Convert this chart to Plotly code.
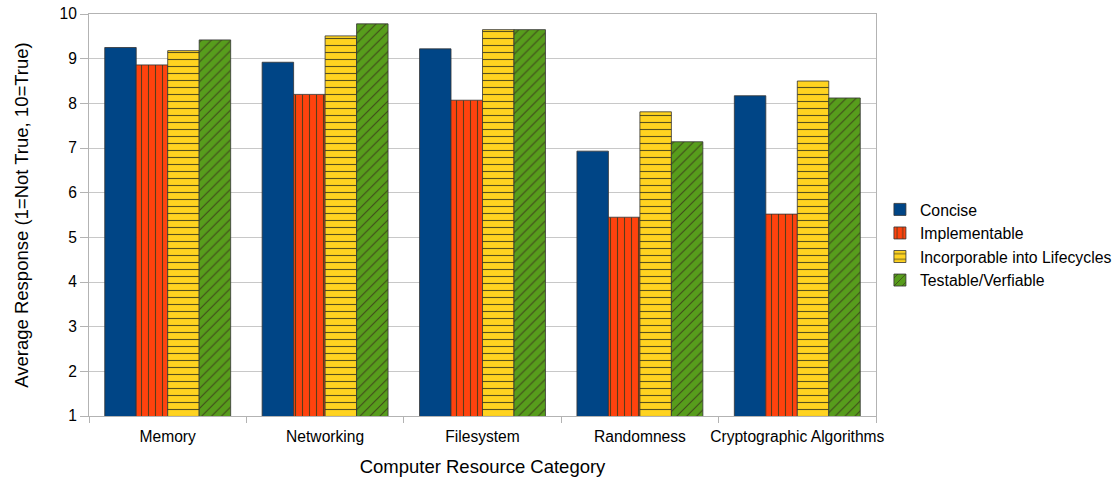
import plotly.graph_objects as go

categories = ["Memory", "Networking", "Filesystem", "Randomness", "Cryptographic Algorithms"]
concise = [9.25, 8.92, 9.22, 6.93, 8.17]
implementable = [8.86, 8.20, 8.07, 5.45, 5.52]
incorporable = [9.18, 9.51, 9.65, 7.81, 8.50]
testable = [9.42, 9.78, 9.65, 7.14, 8.12]

series = [
    ("Concise", concise, "#004586", ""),
    ("Implementable", implementable, "#ff420e", "|"),
    ("Incorporable into Lifecycles", incorporable, "#ffd320", "-"),
    ("Testable/Verfiable", testable, "#579d1c", "/"),
]

fig = go.Figure()
for name, vals, color, shape in series:
    pattern = dict(shape=shape, fgcolor="#3a3a1a", fgopacity=0.85,
                   size=7, solidity=0.16, fillmode="overlay") if shape else None
    fig.add_trace(go.Bar(
        name=name, x=categories, y=vals,
        marker=dict(color=color, line=dict(color="#333333", width=0.8),
                    pattern=pattern),
    ))

fig.update_layout(
    width=1116, height=481,
    margin=dict(l=89, r=240, t=14, b=65, autoexpand=False),
    paper_bgcolor="white", plot_bgcolor="white",
    barmode="group", bargap=0.2, bargroupgap=0,
    font=dict(family="Liberation Sans, Arial, sans-serif", size=15.6, color="#000000"),
    legend=dict(x=1.005, y=0.425, yanchor="middle", xanchor="left",
                font=dict(size=15.8), tracegroupgap=0, itemwidth=30),
    showlegend=True,
)
fig.update_xaxes(
    title=dict(text="Computer Resource Category", font=dict(size=18.5), standoff=16),
    showline=True, linecolor="#b3b3b3", mirror=True,
    ticks="outside", tickson="boundaries", tickcolor="#b3b3b3", ticklen=6,
    ticklabelstandoff=6, tickangle=0, automargin=False,
    showgrid=False,
)
fig.update_yaxes(
    title=dict(text="Average Response (1=Not True, 10=True)", font=dict(size=18.5), standoff=26),
    range=[1, 10], dtick=1, tick0=1, automargin=False,
    showline=True, linecolor="#b3b3b3", mirror=True,
    ticks="outside", tickcolor="#b3b3b3", ticklen=8,
    showgrid=True, gridcolor="#c8c8c8", zeroline=False,
)

fig.write_html("out.html")
